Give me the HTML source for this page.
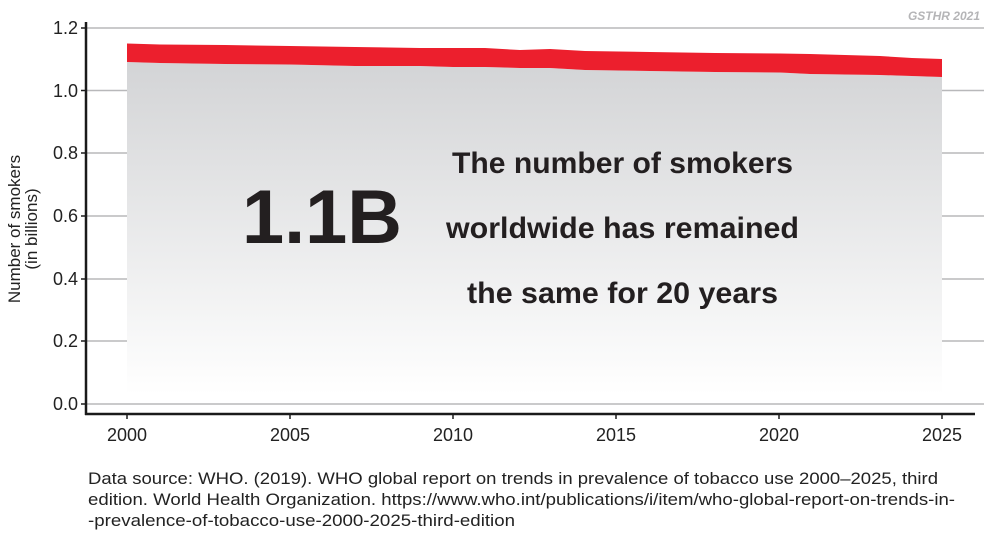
<!DOCTYPE html>
<html><head><meta charset="utf-8"><style>
body{margin:0;background:#fff;width:1000px;height:543px;overflow:hidden;font-family:"Liberation Sans",sans-serif}
</style></head><body>
<svg width="1000" height="543" viewBox="0 0 1000 543" xmlns="http://www.w3.org/2000/svg" font-family="Liberation Sans, sans-serif">
<defs><linearGradient id="g" x1="0" y1="0" x2="0" y2="1">
<stop offset="0" stop-color="#d3d4d6"/><stop offset="1" stop-color="#ffffff"/></linearGradient></defs>
<text x="980" y="20" font-size="12" font-weight="bold" font-style="italic" fill="#b5b5b7" text-anchor="end">GSTHR 2021</text>
<g stroke="#b8b8ba" stroke-width="1.5">
<line x1="86" y1="28" x2="984" y2="28"/><line x1="86" y1="90.5" x2="984" y2="90.5"/>
<line x1="86" y1="153" x2="984" y2="153"/><line x1="86" y1="216" x2="984" y2="216"/>
<line x1="86" y1="279" x2="984" y2="279"/><line x1="86" y1="341" x2="984" y2="341"/>
<line x1="86" y1="404" x2="984" y2="404"/></g>
<path d="M127,62 L160,63 L225,64 L290,64.5 L355,66 L420,66 L453,67 L485,67 L520,68 L550,68 L585,70 L650,71 L715,72 L780,72.5 L810,74 L880,75 L942,77 L942,395 L127,395Z" fill="url(#g)"/>
<path d="M127,43.5 L160,44.5 L225,45 L290,46 L355,47 L420,48 L453,48 L485,48 L520,50 L550,49 L585,51 L650,52 L715,53 L780,53.5 L810,54 L880,56 L912,58 L942,59 L942,77 L880,75 L810,74 L780,72.5 L715,72 L650,71 L585,70 L550,68 L520,68 L485,67 L453,67 L420,66 L355,66 L290,64.5 L225,64 L160,63 L127,62Z" fill="#ec1f2d"/>
<g stroke="#1a1a1a" stroke-width="2.5"><line x1="86" y1="22" x2="86" y2="415"/><line x1="85" y1="414" x2="975" y2="414"/></g>
<g stroke="#1a1a1a" stroke-width="1.5">
<line x1="81" y1="28" x2="86" y2="28"/><line x1="81" y1="90.5" x2="86" y2="90.5"/><line x1="81" y1="153" x2="86" y2="153"/><line x1="81" y1="216" x2="86" y2="216"/><line x1="81" y1="279" x2="86" y2="279"/><line x1="81" y1="341" x2="86" y2="341"/><line x1="81" y1="404" x2="86" y2="404"/>
<line x1="127" y1="414" x2="127" y2="419"/><line x1="290" y1="414" x2="290" y2="419"/><line x1="453" y1="414" x2="453" y2="419"/><line x1="616" y1="414" x2="616" y2="419"/><line x1="779" y1="414" x2="779" y2="419"/><line x1="942" y1="414" x2="942" y2="419"/></g>
<g font-size="18" fill="#222" text-anchor="end">
<text x="78" y="34">1.2</text><text x="78" y="97">1.0</text><text x="78" y="159">0.8</text><text x="78" y="222">0.6</text><text x="78" y="285">0.4</text><text x="78" y="347">0.2</text><text x="78" y="410">0.0</text></g>
<g font-size="18" fill="#222" text-anchor="middle">
<text x="127" y="441">2000</text><text x="290" y="441">2005</text><text x="453" y="441">2010</text><text x="616" y="441">2015</text><text x="779" y="441">2020</text><text x="942" y="441">2025</text></g>
<g font-size="17" fill="#222" text-anchor="middle">
<text transform="translate(20,229) rotate(-90)">Number of smokers</text>
<text transform="translate(37,229) rotate(-90)">(in billions)</text></g>
<text x="242" y="243" font-size="76" font-weight="bold" fill="#231f20" textLength="160" lengthAdjust="spacingAndGlyphs">1.1B</text>
<g font-size="30" font-weight="bold" fill="#231f20">
<text x="452" y="173" textLength="341" lengthAdjust="spacingAndGlyphs">The number of smokers</text>
<text x="446" y="238" textLength="353" lengthAdjust="spacingAndGlyphs">worldwide has remained</text>
<text x="467" y="303" textLength="311" lengthAdjust="spacingAndGlyphs">the same for 20 years</text></g>
<g font-size="16.5" fill="#222">
<text x="88" y="484" textLength="850" lengthAdjust="spacingAndGlyphs">Data source: WHO. (2019). WHO global report on trends in prevalence of tobacco use 2000–2025, third</text>
<text x="88" y="505" textLength="867" lengthAdjust="spacingAndGlyphs">edition. World Health Organization. https://www.who.int/publications/i/item/who-global-report-on-trends-in-</text>
<text x="88" y="526" textLength="427" lengthAdjust="spacingAndGlyphs">-prevalence-of-tobacco-use-2000-2025-third-edition</text></g>
</svg>
</body></html>
